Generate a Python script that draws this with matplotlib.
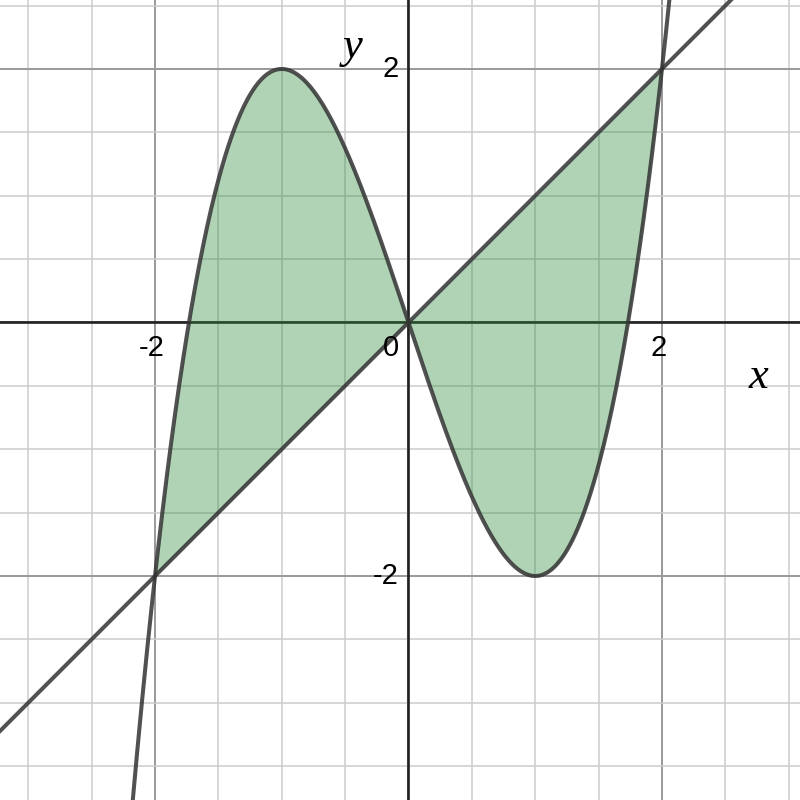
import matplotlib.pyplot as plt
import numpy as np

# cubic y = x^3 - 3x and the line y = x, as polynomial coefficients
cubic_coef = [1, 0, -3, 0]
line_coef = [1, 0]
fill_range = [-2, 2]
x_ticks = [-2, 2]
y_ticks = [-2, 2]

xlim = (-3.223, 3.089)
ylim = (-3.767, 2.544)

fig = plt.figure(figsize=(8, 8), dpi=100)
ax = fig.add_axes([0, 0, 1, 1])
ax.set_xlim(*xlim)
ax.set_ylim(*ylim)
ax.axis('off')

# grid: light every 0.5, darker every 2
for v in np.arange(-3, 3.01, 0.5):
    major = abs(v % 2) < 1e-9
    ax.axvline(v, color='#999999' if major else '#cccccc', lw=1.4 if major else 1.1, zorder=0)
for v in np.arange(-3.5, 2.51, 0.5):
    major = abs(v % 2) < 1e-9
    ax.axhline(v, color='#999999' if major else '#cccccc', lw=1.4 if major else 1.1, zorder=0)

ax.axhline(0, color='#222222', lw=1.9, zorder=1)
ax.axvline(0, color='#222222', lw=1.9, zorder=1)

xs = np.linspace(xlim[0], xlim[1], 800)
xf = np.linspace(fill_range[0], fill_range[1], 600)
ax.fill_between(xf, np.polyval(cubic_coef, xf), np.polyval(line_coef, xf),
                color='#2d8c3c', alpha=0.38, lw=0, zorder=2)
ax.plot(xs, np.polyval(cubic_coef, xs), color='#333333', alpha=0.85, lw=2.9, zorder=3)
ax.plot(xs, np.polyval(line_coef, xs), color='#333333', alpha=0.85, lw=2.9, zorder=3)

font = dict(family='Liberation Sans', fontsize=21, color='black')
for t in x_ticks:
    ax.text(t - 0.03, -0.09, str(t), ha='center', va='top', **font)
ax.text(-0.14, -0.09, '0', ha='center', va='top', **font)
for t in y_ticks:
    ax.text(-0.08, t, str(t), ha='right', va='center', **font)

ax.text(2.76, -0.43, 'x', family='Liberation Serif', style='italic', fontsize=32, ha='center', va='center')
ax.text(-0.44, 2.17, 'y', family='Liberation Serif', style='italic', fontsize=32, ha='center', va='center')

fig.savefig('out.png', dpi=100)
